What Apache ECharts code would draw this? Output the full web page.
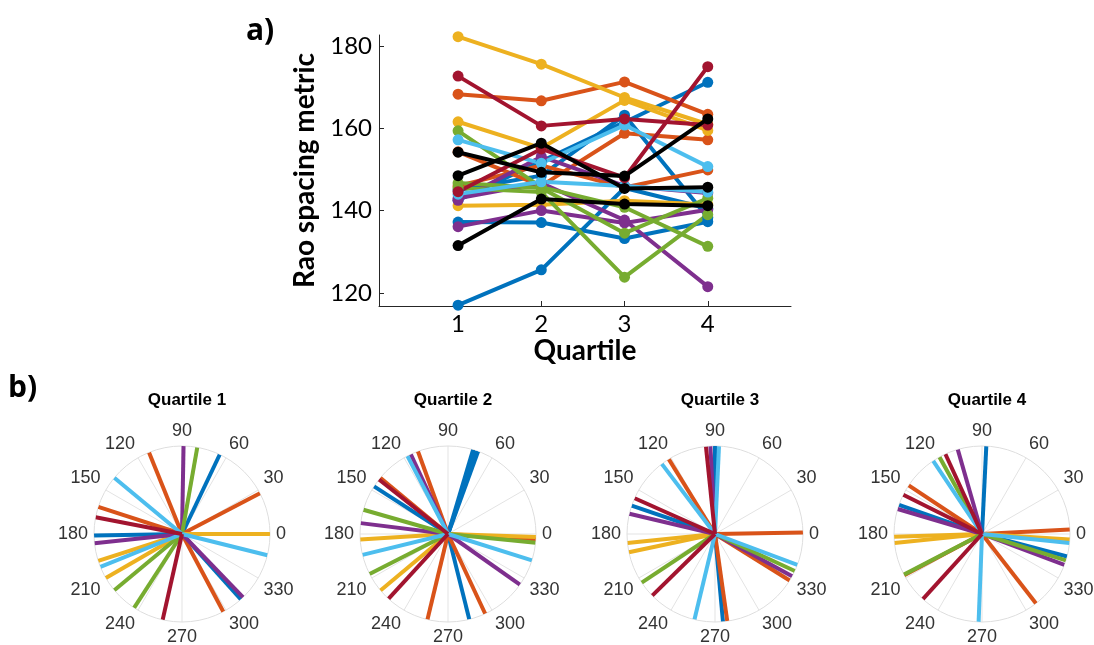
<!DOCTYPE html>
<html>
<head>
<meta charset="utf-8">
<script src="https://cdn.jsdelivr.net/npm/echarts@6/dist/echarts.min.js"></script>
<style>
  html, body { margin: 0; padding: 0; background: #fff; }
  #chart { width: 1094px; height: 645px; }
</style>
</head>
<body>
<div id="chart"></div>
<script>
// ---- data ----
const quartiles = [1, 2, 3, 4]
const yTicks = [120, 140, 160, 180]

// panel a) one array per subject, values at quartile 1..4, grouped by colour
const blueLines = [[117, 125.6, 145.5, 140.5], [137.2, 137.1, 133.2, 137.3], [142.5, 152, 161.5, 171.2], [145, 148.5, 163.2, 138.3]]
const orangeLines = [[168.3, 166.7, 171.3, 163.4], [154.3, 146, 158.8, 157.2], [146, 151, 145.6, 149.9]]
const yellowLines = [[182.3, 175.6, 167.5, 161], [161.6, 155.2, 166.8, 159.5], [141.2, 141.4, 142.4, 141.5]]
const purpleLines = [[136.1, 140, 137, 140.2], [142.5, 153.1, 146, 144.3], [143, 146.7, 137.7, 121.5]]
const greenLines = [[159.4, 145.7, 140.8, 131.3], [146.7, 145.5, 134.5, 143], [145.5, 144.5, 123.8, 139]]
const ltblueLines = [[157.2, 151.5, 160.8, 150.7], [144, 147, 146, 144.5]]
const dkredLines = [[172.7, 160.6, 162.3, 160.8], [144.6, 155, 148, 175]]
const blackLines = [[154.2, 149.3, 148.4, 162.3], [148.5, 156.4, 145.4, 145.7], [131.5, 142.8, 141.6, 141.2]]

// panel b) direction (deg) of each line, grouped by colour
const q1 = {
  blue: [64.6, 312, 181],
  orange: [27.6, 298, 162, 112],
  yellow: [0, 210, 197.8],
  purple: [89, 314, 186],
  green: [80, 237, 219.7],
  ltblue: [346, 202, 140.3],
  dkred: [257.3, 169]
}
const q2 = {
  blue: [73.4, 70, 71.5, 284, 147.2],
  orange: [356.5, 295, 256.5, 140.3, 110],
  yellow: [358, 219.9, 183.6],
  purple: [324.8, 172.9, 115],
  green: [354.3, 207, 164],
  ltblue: [342.5, 193.7, 117.5],
  dkred: [227.4, 141.7]
}
const q3 = {
  blue: [90, 161.2, 275.2],
  orange: [121.7, 278, 0.9, 328.1],
  yellow: [185.8, 192],
  purple: [93, 166.7, 331.3],
  green: [213.6, 335.1],
  ltblue: [87.4, 127.2, 256.5, 339.4],
  dkred: [95.9, 156, 224.5]
}
const q4 = {
  blue: [87.2, 160.6, 345.2],
  orange: [146.4, 207.9, 307.9, 3],
  yellow: [181.8, 185.8, 356.5],
  purple: [106, 163.5, 339.4],
  green: [118.9, 207.5, 342.5],
  ltblue: [123.7, 267.8, 354.2],
  dkred: [114.6, 153.5, 227.8]
}
const panels = [q1, q2, q3, q4]
const panelTitles = ['Quartile 1', 'Quartile 2', 'Quartile 3', 'Quartile 4']

// ---- styles ----
const palette = {
  blue: '#0072BD', orange: '#D95319', yellow: '#EDB120', purple: '#7E2F8E',
  green: '#77AC30', ltblue: '#4DBEEE', dkred: '#A2142F', black: '#000000'
}
const axisColor = '#262626'
const polarCenters = [[182, 534], [448, 534], [715, 534], [982, 534]]
const polarRadius = 88

const chart = echarts.init(document.getElementById('chart'))

let series = []
const topGroups = [
  ['blue', blueLines], ['orange', orangeLines], ['yellow', yellowLines], ['purple', purpleLines],
  ['green', greenLines], ['ltblue', ltblueLines], ['dkred', dkredLines], ['black', blackLines]
]
topGroups.forEach(([col, lines]) => {
  lines.forEach((vals, k) => {
    series.push({
      name: col + k,
      type: 'line',
      xAxisIndex: 0,
      yAxisIndex: 0,
      data: vals.map((v, i) => [quartiles[i], v]),
      symbol: 'circle',
      symbolSize: 11,
      lineStyle: { width: 4, color: palette[col] },
      itemStyle: { color: palette[col] },
      z: col === 'black' ? 5 : 2,
      silent: true,
      animation: false
    })
  })
})

// polar panels: each direction is a line from the centre to the rim
panels.forEach((panel, p) => {
  Object.keys(panel).forEach(col => {
    panel[col].forEach(a => {
      series.push({
        type: 'line',
        coordinateSystem: 'polar',
        polarIndex: p,
        data: [[0, a], [1, a]],
        showSymbol: false,
        symbol: 'none',
        lineStyle: { width: 4, color: palette[col] },
        silent: true,
        animation: false
      })
    })
  })
})

chart.setOption({
  animation: false,
  textStyle: { fontFamily: 'Liberation Sans' },
  title: panelTitles.map((t, i) => ({
    text: t,
    left: polarCenters[i][0],
    top: 387,
    textAlign: 'center',
    textStyle: { fontSize: 17, fontWeight: 'bold', color: '#000', fontFamily: 'Liberation Sans' }
  })),
  graphic: [
    { type: 'text', left: 246, top: 16, style: { text: 'a)', font: 'bold 30px "Open Sans"', fill: '#000' } },
    { type: 'text', left: 8, top: 373, style: { text: 'b)', font: 'bold 30px "Open Sans"', fill: '#000' } }
  ],
  grid: { left: 379, top: 35, width: 412, height: 271, containLabel: false },
  xAxis: {
    type: 'value',
    min: 0.05,
    max: 5,
    name: 'Quartile',
    nameLocation: 'middle',
    nameGap: 30,
    nameTextStyle: { fontSize: 28, fontWeight: 'bold', color: '#000', fontFamily: 'Lato' },
    axisLine: { lineStyle: { color: axisColor, width: 1 } },
    axisTick: { inside: true, length: 5, customValues: quartiles, lineStyle: { color: axisColor } },
    axisLabel: { customValues: quartiles, fontSize: 24, color: '#000', margin: 6, fontFamily: 'Lato' },
    splitLine: { show: false }
  },
  yAxis: {
    type: 'value',
    min: 116.8,
    max: 182.7,
    name: 'Rao spacing metric',
    nameLocation: 'middle',
    nameGap: 60,
    nameTextStyle: { fontSize: 28, fontWeight: 'bold', color: '#000', fontFamily: 'Lato' },
    axisLine: { show: true, lineStyle: { color: axisColor, width: 1 } },
    axisTick: { show: true, inside: true, length: 5, customValues: yTicks, lineStyle: { color: axisColor } },
    axisLabel: { customValues: yTicks, fontSize: 24, color: '#000', margin: 7, fontFamily: 'Lato' },
    splitLine: { show: false }
  },
  polar: polarCenters.map(c => ({ center: c, radius: polarRadius })),
  angleAxis: polarCenters.map((c, i) => ({
    polarIndex: i,
    type: 'value',
    min: 0,
    max: 360,
    interval: 30,
    startAngle: 0,
    clockwise: false,
    axisLine: { lineStyle: { color: '#dedede', width: 1 } },
    axisTick: { show: false },
    axisLabel: {
      fontSize: 18,
      color: '#333333',
      margin: 6,
      fontFamily: 'Liberation Sans',
      formatter: v => (v === 360 ? '' : String(v))
    },
    splitLine: { show: true, lineStyle: { color: '#e3e3e3', width: 1 } }
  })),
  radiusAxis: polarCenters.map((c, i) => ({
    polarIndex: i,
    type: 'value',
    min: 0,
    max: 1,
    show: false,
    splitLine: { show: false }
  })),
  series: series
})
</script>
</body>
</html>
